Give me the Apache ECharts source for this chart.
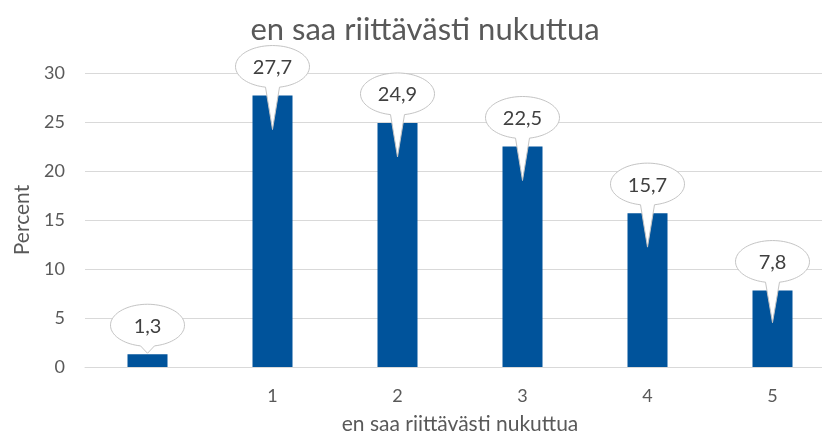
<!DOCTYPE html>
<html>
<head>
<meta charset="utf-8">
<script src="https://cdn.jsdelivr.net/npm/echarts@6/dist/echarts.min.js"></script>
<style>
html,body{margin:0;padding:0;background:#fff;}
#c{width:822px;height:438px;}
</style>
</head>
<body>
<div id="c"></div>
<script>
const chartTitle = 'en saa riittävästi nukuttua';
const xAxisTitle = 'en saa riittävästi nukuttua';
const yAxisTitle = 'Percent';
const categories = ['', '1', '2', '3', '4', '5'];
const values = [1.3, 27.7, 24.9, 22.5, 15.7, 7.8];
const yTicks = [0, 5, 10, 15, 20, 25, 30];

const FONT = 'Lato, "Open Sans", sans-serif';
const TXT = '#595959';

const chart = echarts.init(document.getElementById('c'), null, {renderer: 'canvas'});

function renderBubble(params, api) {
  const idx = api.value(0);
  const v = api.value(1);
  const p = api.coord([idx, v]);
  const z = api.coord([idx, 0]);
  const h = z[1] - p[1];
  const cx = p[0], cy = p[1] - 29, rx = 37, ry = 21;
  const tipY = h > 20 ? p[1] + Math.min(34, 0.42 * h) : p[1] - 1;
  const dx = 7;
  const a = Math.asin(dx / rx);
  const t0 = Math.PI / 2 + a, t1 = Math.PI / 2 - a + 2 * Math.PI;
  const pts = [];
  const N = 80;
  for (let i = 0; i <= N; i++) {
    const t = t0 + (t1 - t0) * i / N;
    pts.push([cx + rx * Math.cos(t), cy + ry * Math.sin(t)]);
  }
  pts.push([cx, tipY]);
  return {
    type: 'group',
    children: [
      {type: 'polygon', shape: {points: pts}, style: {fill: '#ffffff', stroke: '#c4c4c4', lineWidth: 1}},
      {type: 'text', style: {text: String(v).replace('.', ','), x: cx, y: cy + 1, align: 'center', verticalAlign: 'middle', font: '20px ' + FONT, fill: '#404040'}}
    ]
  };
}

chart.setOption({
  animation: false,
  backgroundColor: '#ffffff',
  title: {
    text: chartTitle,
    left: 420,
    textAlign: 'center',
    top: 9,
    textStyle: {fontFamily: FONT, fontSize: 31, fontWeight: 'normal', color: TXT}
  },
  grid: {left: 85, top: 73, width: 750, height: 294, containLabel: false, outerBoundsMode: 'none'},
  xAxis: {
    type: 'category',
    data: categories,
    name: xAxisTitle,
    nameLocation: 'middle',
    nameGap: 47,
    nameTextStyle: {fontFamily: FONT, fontSize: 21, color: TXT},
    axisLine: {show: true, lineStyle: {color: '#d9d9d9'}},
    axisTick: {show: false},
    axisLabel: {fontFamily: FONT, fontSize: 18, color: TXT, margin: 20}
  },
  yAxis: {
    type: 'value',
    min: yTicks[0],
    max: yTicks[yTicks.length - 1],
    interval: yTicks[1] - yTicks[0],
    name: yAxisTitle,
    nameLocation: 'middle',
    nameGap: 49,
    nameTextStyle: {fontFamily: FONT, fontSize: 21, color: TXT},
    axisLine: {show: false},
    axisTick: {show: false},
    axisLabel: {fontFamily: FONT, fontSize: 18, color: TXT, margin: 20},
    splitLine: {lineStyle: {color: '#d9d9d9', width: 1}}
  },
  series: [
    {
      type: 'bar',
      data: values,
      barWidth: 40,
      itemStyle: {color: '#00539B'}
    },
    {
      type: 'custom',
      clip: false,
      z: 5,
      data: values.map((v, i) => [i, v]),
      renderItem: renderBubble
    }
  ]
});
</script>
</body>
</html>
